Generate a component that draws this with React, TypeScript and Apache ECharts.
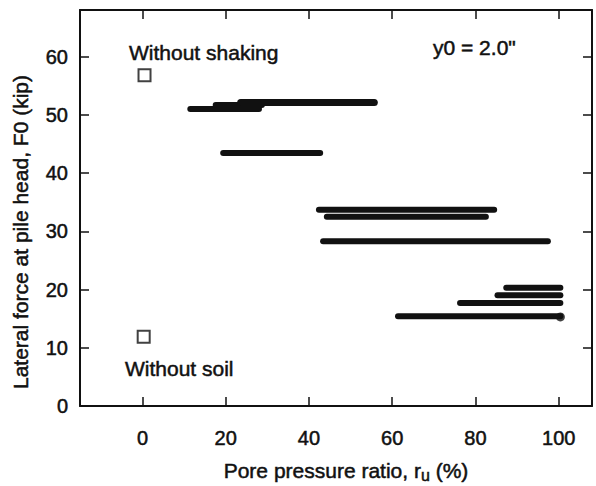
import React, { useEffect, useRef } from "react";
import * as echarts from "echarts";

// Horizontal range bars: pore pressure ratio (start -> end) at lateral force level
const barForce = [51.0, 51.7, 52.1, 43.45, 33.7, 32.5, 28.3, 20.3, 19.0, 17.7, 15.4];
const barStart = [11.5, 17.6, 23.6, 19.4, 42.4, 44.3, 43.4, 87.4, 85.3, 76.3, 61.4];
const barEnd = [28.0, 28.7, 55.7, 42.7, 84.5, 82.5, 97.4, 100.4, 100.4, 100.4, 100.4];
const barWidth = [6, 6, 7, 6, 6, 6, 6, 6, 6, 6, 6];

// Reference points (open squares)
const refRatio = [0.5, 0.3];
const refForce = [56.8, 11.9];
const refNames = ["Without shaking", "Without soil"];

// Blob at end of lowest bar
const blobRatio = [100.4];
const blobForce = [15.3];

const xTicks = [0, 20, 40, 60, 80, 100];
const yTicks = [0, 10, 20, 30, 40, 50, 60];
const yTicksRight = [10, 20, 30, 40, 50, 60];

const FONT = "Liberation Sans, Arial, Helvetica, sans-serif";
const INK = "#111";
const HEAVY = { textBorderColor: INK, textBorderWidth: 0.5 };

export default function App() {
  const ref = useRef<HTMLDivElement>(null);
  useEffect(() => {
    if (!ref.current) return;
    const chart = echarts.init(ref.current, undefined, { renderer: "svg" });

    const axisLine = { show: true, onZero: false, lineStyle: { color: INK, width: 2 } };
    const tickStyle = { color: INK, width: 1.5 };

    const barSeries = barForce.map((f, i) => ({
      type: "line",
      xAxisIndex: 0,
      yAxisIndex: 0,
      symbol: "none",
      silent: true,
      data: [
        [barStart[i], f],
        [barEnd[i], f],
      ],
      lineStyle: { color: INK, width: barWidth[i], cap: "round" },
    }));

    const textStyle = (text: string, size: number, align: string) => ({
      text,
      fontSize: size,
      fontFamily: FONT,
      fill: INK,
      stroke: INK,
      lineWidth: 0.5,
      align,
      verticalAlign: "middle",
    });

    chart.setOption({
      animation: false,
      backgroundColor: "#fff",
      grid: { left: 80, right: 4, top: 10, bottom: 80 },
      xAxis: [
        {
          type: "value",
          position: "bottom",
          min: -15,
          max: 108,
          axisLine,
          axisTick: { show: true, inside: true, length: 9, customValues: xTicks, lineStyle: tickStyle },
          axisLabel: { customValues: xTicks, margin: 22, fontSize: 20, fontFamily: FONT, color: INK, ...HEAVY },
          splitLine: { show: false },
        },
        {
          type: "value",
          position: "top",
          min: -15,
          max: 108,
          axisLine,
          axisTick: { show: true, inside: true, length: 9, customValues: xTicks, lineStyle: tickStyle },
          axisLabel: { show: false },
          splitLine: { show: false },
        },
      ],
      yAxis: [
        {
          type: "value",
          position: "left",
          min: 0,
          max: 68,
          axisLine,
          axisTick: { show: true, inside: true, length: 9, customValues: yTicks, lineStyle: tickStyle },
          axisLabel: { customValues: yTicks, margin: 12, fontSize: 20, fontFamily: FONT, color: INK, ...HEAVY },
          splitLine: { show: false },
        },
        {
          type: "value",
          position: "right",
          min: 0,
          max: 68,
          axisLine,
          axisTick: { show: true, inside: true, length: 9, customValues: yTicksRight, lineStyle: tickStyle },
          axisLabel: { show: false },
          splitLine: { show: false },
        },
      ],
      series: [
        ...barSeries,
        {
          type: "scatter",
          xAxisIndex: 0,
          yAxisIndex: 0,
          symbol: "circle",
          symbolSize: 9,
          silent: true,
          itemStyle: { color: INK },
          data: blobRatio.map((x, i) => [x, blobForce[i]]),
        },
        {
          type: "scatter",
          xAxisIndex: 0,
          yAxisIndex: 0,
          symbol: "rect",
          symbolSize: 12,
          silent: true,
          itemStyle: { color: "#fff", borderColor: INK, borderWidth: 2 },
          data: refRatio.map((x, i) => ({ name: refNames[i], value: [x, refForce[i]] })),
        },
      ],
      graphic: [
        { type: "text", x: 129, y: 52, style: textStyle("Without shaking", 21, "left") },
        { type: "text", x: 125, y: 368, style: textStyle("Without soil", 21, "left") },
        { type: "text", x: 433, y: 47, style: textStyle('y0 = 2.0"', 21, "left") },
        {
          type: "text",
          x: 346,
          y: 470,
          style: {
            ...textStyle("Pore pressure ratio, r{u|u} (%)", 21, "center"),
            rich: {
              u: { fontSize: 16, fontFamily: FONT, fill: INK, stroke: INK, lineWidth: 0.5, padding: [10, 0, 0, 0] },
            },
          },
        },
        {
          type: "text",
          x: 20,
          y: 232,
          rotation: Math.PI / 2,
          style: textStyle("Lateral force at pile head, F0 (kip)", 21, "center"),
        },
      ],
    });
    return () => chart.dispose();
  }, []);
  return (
    <div
      ref={ref}
      style={{ position: "fixed", left: 0, top: 0, width: 596, height: 486, background: "#fff" }}
    />
  );
}
